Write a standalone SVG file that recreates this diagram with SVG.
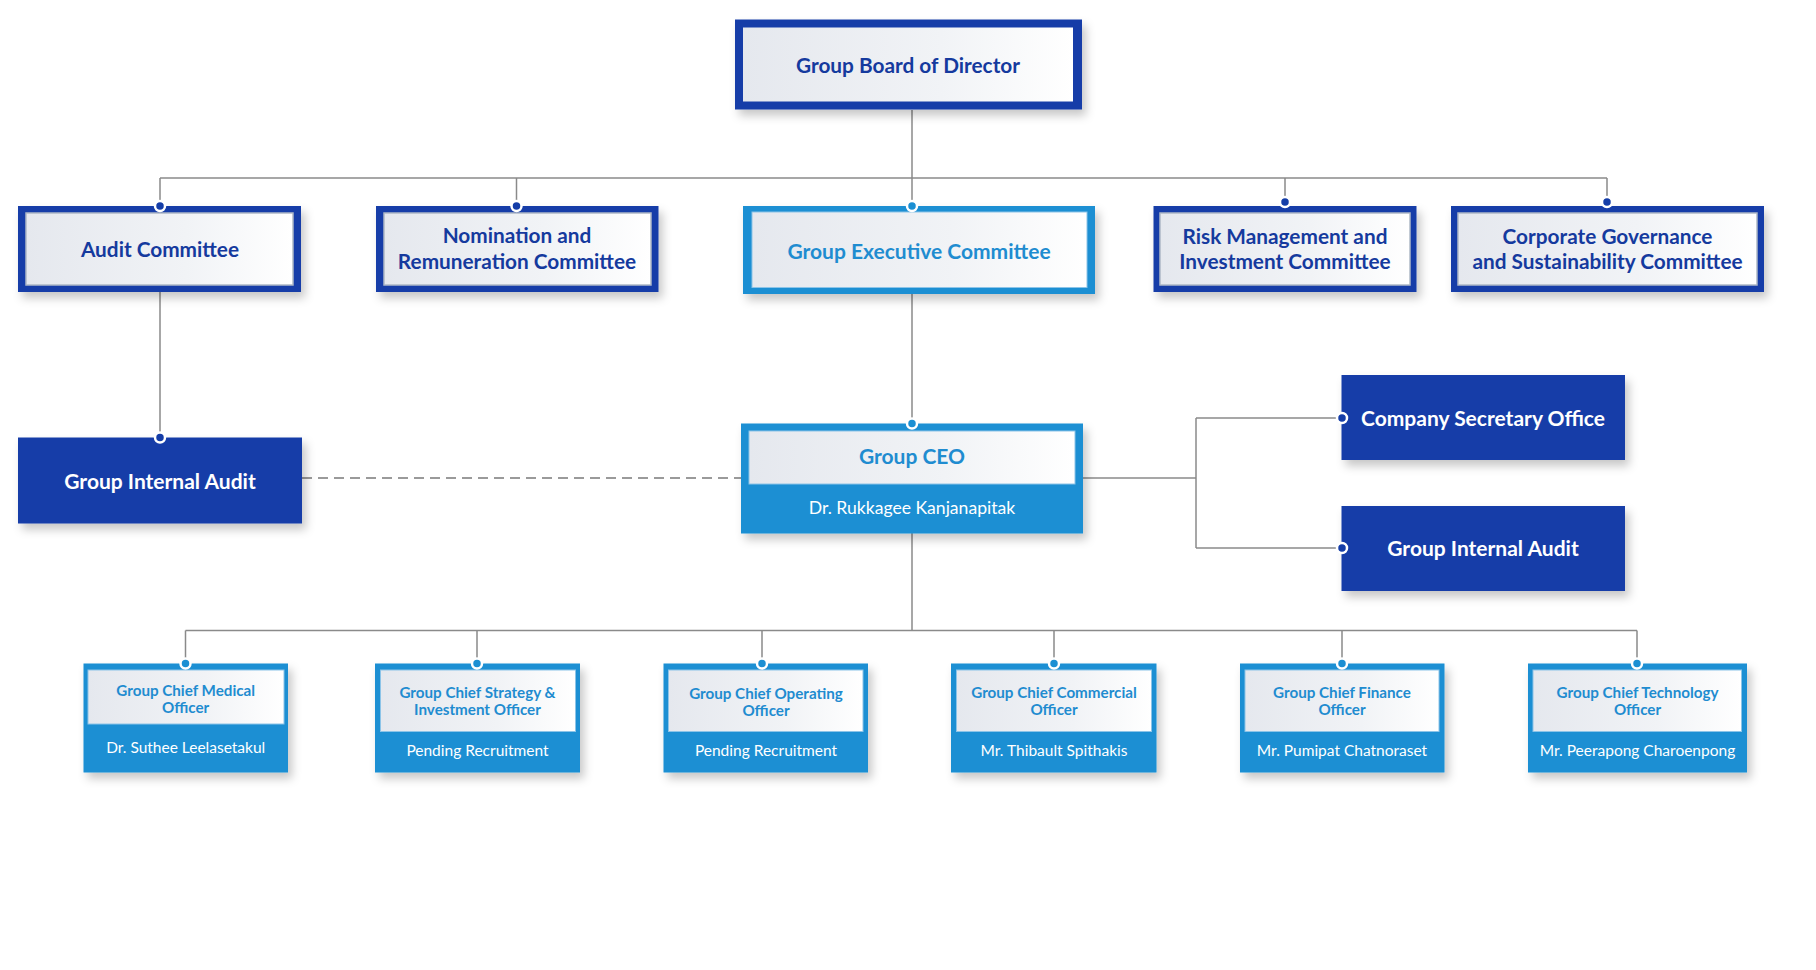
<svg xmlns="http://www.w3.org/2000/svg" width="1816" height="970" viewBox="0 0 1816 970">
<defs>
  <linearGradient id="panel" x1="0" y1="0" x2="1" y2="0">
    <stop offset="0" stop-color="#e5e8ee"/>
    <stop offset="0.6" stop-color="#f1f3f6"/>
    <stop offset="1" stop-color="#ffffff"/>
  </linearGradient>
  <filter id="shadow" x="-10%" y="-15%" width="130%" height="150%">
    <feDropShadow dx="4" dy="6" stdDeviation="5" flood-color="#000" flood-opacity="0.22"/>
  </filter>
</defs>
<style>
  .dark { fill: #143da8; }
  .light { fill: #1b8fd3; }
  .panel { fill: url(#panel); }
  .panel-d { fill: url(#panel); stroke: #aeb8c6; stroke-width: 1.5; }
  .panel-l { fill: url(#panel); stroke: #8cc4e8; stroke-width: 1; }
  .conn { fill: none; stroke: #8a8a8a; stroke-width: 1.5; }
  .dash { fill: none; stroke: #7a7a7a; stroke-width: 1.5; stroke-dasharray: 10 6; }
  .dot-d { fill: #143da8; stroke: #ffffff; stroke-width: 2.5; }
  .dot-l { fill: #1b8fd3; stroke: #ffffff; stroke-width: 2.5; }
  text { font-family: Lato, "Liberation Sans", sans-serif; text-anchor: middle; }
  .t-dark { fill: #153a9e; font-weight: 700; font-size: 20.8px; }
  .t-light { fill: #1f8cd0; font-weight: 700; font-size: 21px; }
  .t-white { fill: #ffffff; font-weight: 700; font-size: 21px; }
  .t-sub { fill: #1f8cd0; font-weight: 700; font-size: 15.2px; }
  .t-name { fill: #ffffff; font-weight: 400; font-size: 15.5px; }
  .t-ceo-name { fill: #ffffff; font-weight: 400; font-size: 17.6px; }
</style>

<g id="connectors">
  <path class="conn" d="M912 110 V178 M160 178 H1607 M160 178 V206 M516.5 178 V206 M912 178 V206 M1285 178 V202 M1607 178 V202"/>
  <path class="conn" d="M160 292 V437 M912 294 V423"/>
  <path class="dash" d="M302 478 H741"/>
  <path class="conn" d="M1083 478 H1196 M1196 418 V548 M1196 418 H1342 M1196 548 H1342"/>
  <path class="conn" d="M912 533 V630.5 M185.5 630.5 H1637 M185.5 630.5 V663.5 M477 630.5 V663.5 M762 630.5 V663.5 M1054 630.5 V663.5 M1342 630.5 V663.5 M1637 630.5 V663.5"/>
</g>

<g id="board">
  <rect class="dark" x="735" y="19.5" width="347" height="90" filter="url(#shadow)"/>
  <rect class="panel" x="743" y="27.5" width="330" height="74"/>
  <text class="t-dark" x="908" y="72.5" font-size="22">Group Board of Director</text>
</g>

<g id="audit-committee">
  <rect class="dark" x="18" y="206" width="283" height="86" filter="url(#shadow)"/>
  <rect class="panel-d" x="26" y="213" width="267" height="72"/>
  <text class="t-dark" x="160" y="256.5">Audit Committee</text>
</g>

<g id="nomination-committee">
  <rect class="dark" x="376" y="206" width="282.5" height="86" filter="url(#shadow)"/>
  <rect class="panel-d" x="384" y="213" width="267" height="72"/>
  <text class="t-dark" x="517" y="243">Nomination and</text>
  <text class="t-dark" x="517" y="268.5">Remuneration Committee</text>
</g>

<g id="executive-committee">
  <rect class="light" x="743" y="206" width="352" height="88" filter="url(#shadow)"/>
  <rect class="panel-l" x="752" y="212" width="335" height="75.5"/>
  <text class="t-light" x="919" y="258.5" font-size="21.5">Group Executive Committee</text>
</g>

<g id="risk-committee">
  <rect class="dark" x="1153.5" y="206" width="263" height="86" filter="url(#shadow)"/>
  <rect class="panel-d" x="1160" y="213" width="250" height="72"/>
  <text class="t-dark" x="1285" y="243.5">Risk Management and</text>
  <text class="t-dark" x="1285" y="268.5">Investment Committee</text>
</g>

<g id="governance-committee">
  <rect class="dark" x="1451" y="206" width="313" height="86" filter="url(#shadow)"/>
  <rect class="panel-d" x="1458" y="213" width="299" height="72"/>
  <text class="t-dark" x="1607.5" y="243.5">Corporate Governance</text>
  <text class="t-dark" x="1607.5" y="268.5">and Sustainability Committee</text>
</g>

<g id="internal-audit-left">
  <rect class="dark" x="18" y="437.5" width="284" height="86" filter="url(#shadow)"/>
  <text class="t-white" x="160" y="488.5">Group Internal Audit</text>
</g>

<g id="ceo">
  <rect class="light" x="741" y="423.5" width="342" height="110" filter="url(#shadow)"/>
  <rect class="panel-l" x="749" y="431" width="326" height="53"/>
  <text class="t-light" x="912" y="463.5" font-size="22">Group CEO</text>
  <text class="t-ceo-name" x="912" y="514">Dr. Rukkagee Kanjanapitak</text>
</g>

<g id="company-secretary">
  <rect class="dark" x="1341.5" y="375" width="283.5" height="85" filter="url(#shadow)"/>
  <text class="t-white" x="1483" y="425.5" font-size="22">Company Secretary Office</text>
</g>

<g id="internal-audit-right">
  <rect class="dark" x="1341.5" y="506" width="283.5" height="85" filter="url(#shadow)"/>
  <text class="t-white" x="1483" y="555.5">Group Internal Audit</text>
</g>

<g id="cmo">
  <rect class="light" x="83.5" y="663.5" width="204.5" height="109" filter="url(#shadow)"/>
  <rect class="panel-l" x="88" y="670" width="196" height="54"/>
  <text class="t-sub" x="185.7" y="696">Group Chief Medical</text>
  <text class="t-sub" x="185.7" y="713">Officer</text>
  <text class="t-name" x="185.7" y="753">Dr. Suthee Leelasetakul</text>
</g>

<g id="csio">
  <rect class="light" x="375" y="663.5" width="205" height="109" filter="url(#shadow)"/>
  <rect class="panel-l" x="380.5" y="670" width="195" height="61.5"/>
  <text class="t-sub" x="477.5" y="697.5">Group Chief Strategy &amp;</text>
  <text class="t-sub" x="477.5" y="714.5">Investment Officer</text>
  <text class="t-name" x="477.5" y="755.5">Pending Recruitment</text>
</g>

<g id="coo">
  <rect class="light" x="663.5" y="663.5" width="204.5" height="109" filter="url(#shadow)"/>
  <rect class="panel-l" x="668.5" y="670" width="194.5" height="61.5"/>
  <text class="t-sub" x="766" y="698.5">Group Chief Operating</text>
  <text class="t-sub" x="766" y="715.5">Officer</text>
  <text class="t-name" x="766" y="755.5">Pending Recruitment</text>
</g>

<g id="cco">
  <rect class="light" x="951" y="663.5" width="205.5" height="109" filter="url(#shadow)"/>
  <rect class="panel-l" x="956.5" y="670" width="195" height="61.5"/>
  <text class="t-sub" x="1054" y="697.5">Group Chief Commercial</text>
  <text class="t-sub" x="1054" y="714.5">Officer</text>
  <text class="t-name" x="1054" y="756">Mr. Thibault Spithakis</text>
</g>

<g id="cfo">
  <rect class="light" x="1240" y="663.5" width="204.5" height="109" filter="url(#shadow)"/>
  <rect class="panel-l" x="1245" y="670" width="194" height="61.5"/>
  <text class="t-sub" x="1342" y="697.5">Group Chief Finance</text>
  <text class="t-sub" x="1342" y="714.5">Officer</text>
  <text class="t-name" x="1342" y="756">Mr. Pumipat Chatnoraset</text>
</g>

<g id="cto">
  <rect class="light" x="1528" y="663.5" width="219" height="109" filter="url(#shadow)"/>
  <rect class="panel-l" x="1533" y="670" width="208.5" height="61.5"/>
  <text class="t-sub" x="1637.5" y="697.5">Group Chief Technology</text>
  <text class="t-sub" x="1637.5" y="714.5">Officer</text>
  <text class="t-name" x="1637.5" y="756">Mr. Peerapong Charoenpong</text>
</g>

<g id="connector-dots">
  <circle class="dot-d" cx="160" cy="206" r="5"/>
  <circle class="dot-d" cx="516.5" cy="206" r="5"/>
  <circle class="dot-l" cx="912" cy="206" r="5"/>
  <circle class="dot-d" cx="1285" cy="202" r="5"/>
  <circle class="dot-d" cx="1607" cy="202" r="5"/>
  <circle class="dot-d" cx="160" cy="437.5" r="5"/>
  <circle class="dot-l" cx="912" cy="423.5" r="5"/>
  <circle class="dot-d" cx="1342" cy="418" r="5"/>
  <circle class="dot-d" cx="1342" cy="548" r="5"/>
  <circle class="dot-l" cx="185.5" cy="663.5" r="5"/>
  <circle class="dot-l" cx="477" cy="663.5" r="5"/>
  <circle class="dot-l" cx="762" cy="663.5" r="5"/>
  <circle class="dot-l" cx="1054" cy="663.5" r="5"/>
  <circle class="dot-l" cx="1342" cy="663.5" r="5"/>
  <circle class="dot-l" cx="1637" cy="663.5" r="5"/>
</g>
</svg>
